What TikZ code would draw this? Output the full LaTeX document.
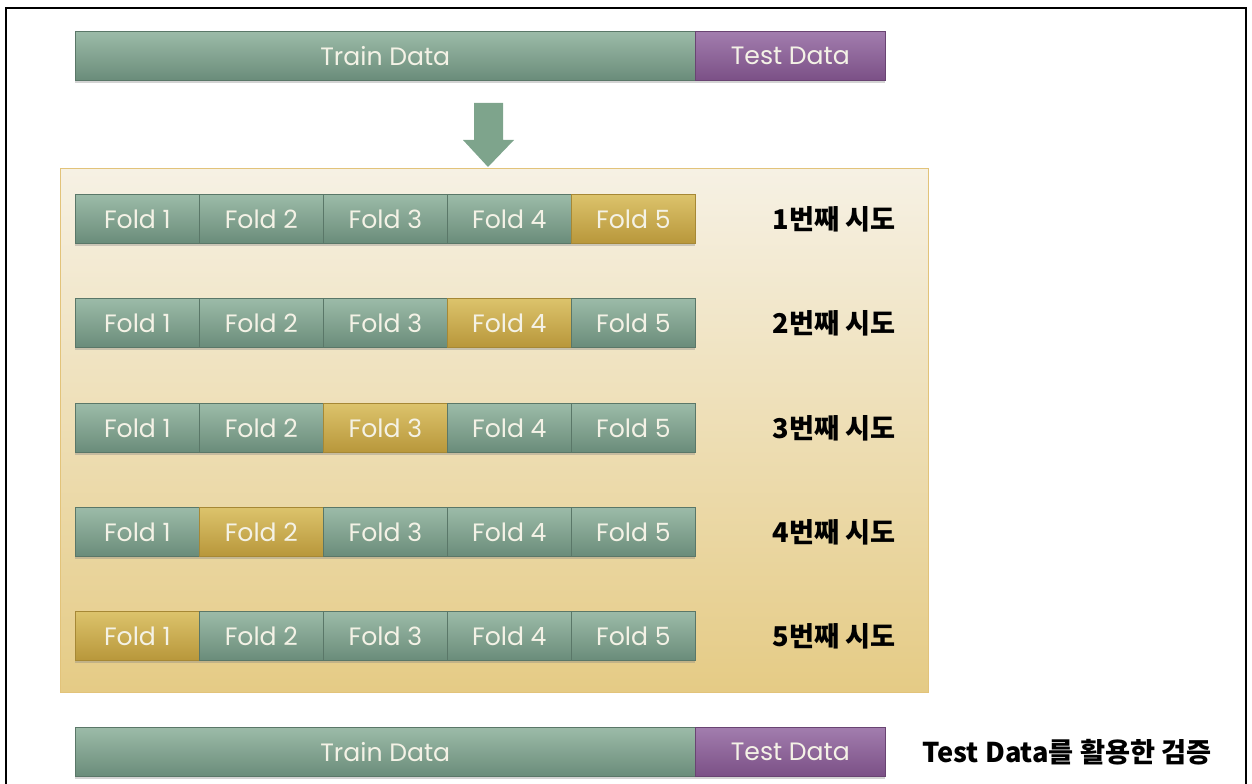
\documentclass[tikz,border=0pt]{standalone}
\usepackage{fontspec}
\setmainfont{Poppins}
\newfontfamily\krfont{Noto Sans CJK KR}
\usetikzlibrary{shadows}

\definecolor{foldtop}{HTML}{9CBBA8}
\definecolor{foldbot}{HTML}{6A8C7A}
\definecolor{goldtop}{HTML}{DCC36C}
\definecolor{goldbot}{HTML}{B8973B}
\definecolor{testtop}{HTML}{A27DAE}
\definecolor{testbot}{HTML}{7B5086}
\definecolor{paneltop}{HTML}{F6F1E4}
\definecolor{panelbot}{HTML}{E5CB85}
\definecolor{panelline}{HTML}{E2C37A}
\definecolor{arrowgreen}{HTML}{7EA48C}
\definecolor{bartext}{HTML}{F4F2E6}

\tikzset{
  bar/.style={anchor=north west, minimum height=0.98cm, inner sep=0pt,
    text=bartext, font=\fontsize{14.3}{14.3}\selectfont,
    drop shadow={opacity=0.35, shadow xshift=0pt, shadow yshift=-1.5pt}},
  trainbar/.style={bar, top color=foldtop, bottom color=foldbot,
    draw=foldbot!85!black, line width=0.4pt, minimum width=12.4cm},
  testbar/.style={bar, top color=testtop, bottom color=testbot,
    draw=testbot!85!black, line width=0.4pt, minimum width=3.8cm},
  fold/.style={bar, top color=foldtop, bottom color=foldbot,
    draw=foldbot!85!black, line width=0.4pt, minimum width=2.48cm},
  valfold/.style={fold, top color=goldtop, bottom color=goldbot,
    draw=goldbot!90!black},
  trial/.style={font=\krfont\bfseries\fontsize{15.5}{15.5}\selectfont, text=black},
  panel/.style={anchor=north west, minimum width=17.36cm, minimum height=10.48cm,
    inner sep=0pt, top color=paneltop, bottom color=panelbot,
    draw=panelline, line width=0.8pt}
}

\begin{document}
\begin{tikzpicture}[x=0.02cm, y=-0.02cm]
  \useasboundingbox (0,0) rectangle (1252,784);

  % outer frame
  \draw[line width=1.6pt] (6,784) -- (6,8) -- (1246,8) -- (1246,784);

  % whole data set
  \node[trainbar] (train) at (75,31) {Train Data};
  \node[testbar] (test) at (695,31) {Test Data};

  % folds
  \node[panel] (panel) at (60,168) {};
  \fill[arrowgreen] (474,103) -- (503,103) -- (503,140) -- (514,140)
    -- (488,167) -- (463,140) -- (474,140) -- cycle;

  \foreach \r/\y in {1/194, 2/298, 3/403, 4/507, 5/611} {
    \foreach \f in {1,...,5} {
      \pgfmathtruncatemacro{\val}{6-\r}
      \ifnum\f=\val
        \node[valfold] (f\r\f) at (75+124*\f-124,\y) {Fold \f};
      \else
        \node[fold] (f\r\f) at (75+124*\f-124,\y) {Fold \f};
      \fi
    }
    \node[trial] (t\r) at (834,\y+25) {{\r}번째 시도};
  }

  % final check
  \node[trainbar] (train2) at (75,727) {Train Data};
  \node[testbar] (test2) at (695,727) {Test Data};
  \node[trial] (check) at (1067,752) {Test Data를 활용한 검증};
\end{tikzpicture}
\end{document}
